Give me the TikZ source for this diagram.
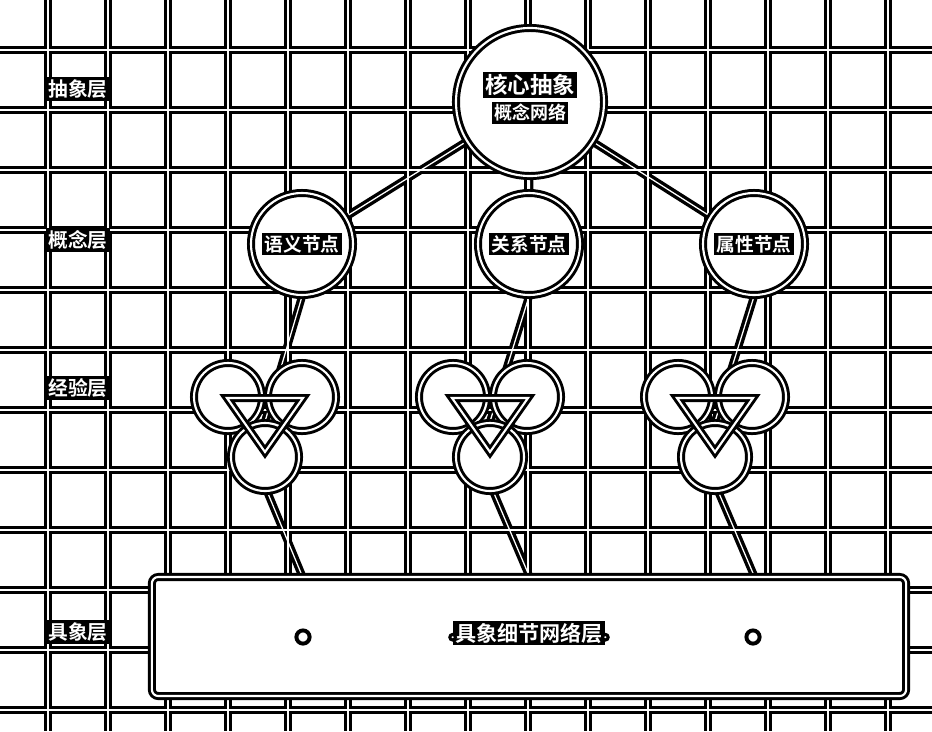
\documentclass[tikz,border=0pt]{standalone}
\usepackage{fontspec}
\setmainfont{Noto Sans CJK SC}[BoldFont={Noto Sans CJK SC Bold}]
\usetikzlibrary{positioning}
\pgfdeclarelayer{back}
\pgfsetlayers{back,main}
\newcommand{\tagtext}[1]{\setlength{\fboxsep}{1.6pt}\colorbox{black}{#1}}

\begin{document}
\begin{tikzpicture}[x=0.025cm, y=-0.025cm,
   ring/.style={circle, fill=white, draw=black, double=white, text=white,
                line width=2.1pt, double distance=1.5pt, inner sep=0pt},
   core/.style={ring, minimum size=3.7cm},
   idea/.style={ring, minimum size=2.55cm,
                font=\bfseries\fontsize{13.3}{14}\selectfont},
   seen/.style={ring, minimum size=1.7cm},
   tri/.style={draw=black, double=white, line width=2.1pt,
               double distance=1.5pt, line join=miter},
   txt/.style={text=white, inner sep=0pt,
               font=\bfseries\fontsize{#1}{#1}\selectfont},
   pin/.style={circle, fill=white, draw=black, line width=2.8pt,
               minimum size=0.33cm, inner sep=0pt}]

\useasboundingbox (0,0) rectangle (932,731);

% layer names
\node[txt=14] (lay1) at (78,89) {\tagtext{抽象层}};
\node[txt=14] (lay2) at (78,240) {\tagtext{概念层}};
\node[txt=14] (lay3) at (78,388) {\tagtext{经验层}};
\node[txt=14] (lay4) at (78,632) {\tagtext{具象层}};

% abstract core
\node[core] (core) at (530,102) {};
\node[txt=16] (coreT) at (530,85) {\tagtext{核心抽象}};
\node[txt=12.8] (coreS) at (530,113) {\tagtext{概念网络}};

% concept nodes
\node[idea] (sem)  at (302,244) {\tagtext{语义节点}};
\node[idea] (rel)  at (529,244) {\tagtext{关系节点}};
\node[idea] (attr) at (754,244) {\tagtext{属性节点}};

% experience clusters
\foreach \cx/\cn in {265/a, 490/b, 715/c} {
  \node[seen] (\cn1) at (\cx-37,397) {};
  \node[seen] (\cn2) at (\cx+37,397) {};
  \node[seen] (\cn3) at (\cx,457) {};
  \draw[tri] (\cx-38,398) -- (\cx+38,398) -- (\cx,452) -- cycle;
}

% concrete layer
\node[draw=black, double=white, line width=2.1pt, double distance=1.5pt,
      fill=white, rounded corners=4.5pt, minimum width=18.85cm,
      minimum height=2.975cm, inner sep=0pt] (box) at (529,636.5) {};
\node[txt=15] (detail) at (529,633) {\tagtext{具象细节网络层}};
\node[pin, minimum size=0.14cm, line width=2.2pt] (dw)
     at ([yshift=-3pt]detail.west) {};
\node[pin, minimum size=0.14cm, line width=2.2pt] (de)
     at ([yshift=-3pt]detail.east) {};
\node[pin] (pa) at (303,637) {};
\node[pin] (pc) at (753,637) {};

\begin{pgfonlayer}{back}
\foreach \lc/\lw in {black/5.7pt, white/0.9pt} {
  \foreach \gx in {48,108,...,888}
    \draw[\lc, line width=\lw] (\gx,0) -- (\gx,731);
  \foreach \gy in {50,110,...,710}
    \draw[\lc, line width=\lw] (0,\gy) -- (932,\gy);
  \draw[\lc, line width=\lw] (core) -- (sem) (core) -- (rel) (core) -- (attr);
  \foreach \cn/\up in {a/sem, b/rel, c/attr}
    \draw[\lc, line width=\lw] (\up.south) -- (\cn3.north)
         (\cn1) -- (\up |- box.north);
}
\end{pgfonlayer}
\end{tikzpicture}
\end{document}
